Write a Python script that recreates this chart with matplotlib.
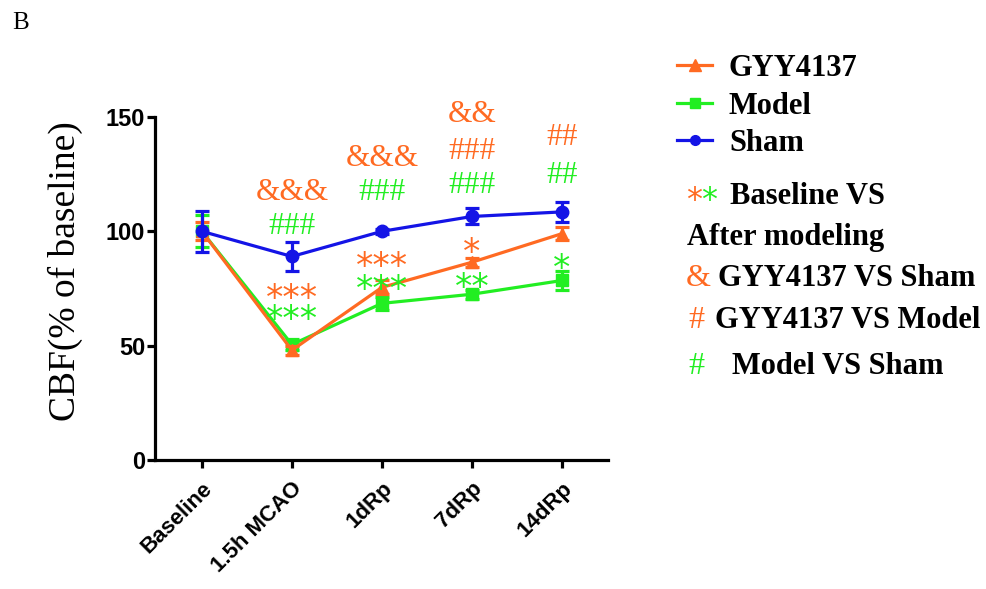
import numpy as np
import matplotlib.pyplot as plt
from matplotlib.lines import Line2D

# time points
categories = ['Baseline', '1.5h MCAO', '1dRp', '7dRp', '14dRp']

# CBF (% of baseline), mean and error
gyy_mean = [100, 48, 75.5, 86.5, 99]
gyy_err = [4, 2, 3, 2, 3]
model_mean = [100, 50.5, 68.5, 72.5, 78.5]
model_err = [7, 2.5, 3, 2, 4]
sham_mean = [100, 89, 100, 106.5, 108.5]
sham_err = [9, 6.5, 1, 3.5, 4.5]

# significance marks: (time index, y, text, group)
marks_x = [1, 1, 1, 1, 2, 2, 2, 2, 3, 3, 3, 3, 3, 4, 4, 4]
marks_y = [117, 102, 74, 65, 132, 117, 88, 78, 151, 135, 120, 94, 79, 141, 124.5, 87]
marks_txt = ['&&&', '###', '***', '***', '&&&', '###', '***', '***',
             '&&', '###', '###', '*', '**', '##', '##', '*']
marks_grp = ['g', 'm', 'g', 'm', 'g', 'm', 'g', 'm',
             'g', 'g', 'm', 'g', 'm', 'g', 'm', 'm']

orange = '#ff6a22'
green = '#22ee22'
blue = '#1414e6'
colors = {'g': orange, 'm': green}

fig = plt.figure(figsize=(9.86, 5.89), dpi=100)
ax = fig.add_axes([155 / 986, 1 - 460 / 589, (608 - 155) / 986, (460 - 117) / 589])

x = np.arange(len(categories))
lw = 2.3
ms = 9
ax.errorbar(x, model_mean, yerr=model_err, color=green, marker='s', markersize=ms,
            lw=lw, elinewidth=lw, capsize=5, capthick=lw, label='Model', zorder=3)
ax.errorbar(x, gyy_mean, yerr=gyy_err, color=orange, marker='^', markersize=ms,
            lw=lw, elinewidth=lw, capsize=5, capthick=lw, label='GYY4137', zorder=4)
ax.errorbar(x, sham_mean, yerr=sham_err, color=blue, marker='o', markersize=ms,
            lw=lw, elinewidth=lw, capsize=5, capthick=lw, label='Sham', zorder=5)

for xi, yi, t, g in zip(marks_x, marks_y, marks_txt, marks_grp):
    if '*' in t:
        ax.text(xi, yi - 8, t, color=colors[g], ha='center', va='baseline',
                fontsize=25, family='DejaVu Sans', clip_on=False, zorder=6)
    else:
        ax.text(xi, yi, t, color=colors[g], ha='center', va='center',
                fontsize=22.5, family='Liberation Serif', clip_on=False, zorder=6)

ax.set_xlim(-0.52, 4.51)
ax.set_ylim(0, 150)
ax.set_yticks([0, 50, 100, 150])
ax.set_xticks(x)
ax.set_xticklabels(categories, rotation=45, ha='right', va='top', rotation_mode='anchor')
for lab in ax.get_xticklabels():
    lab.set_family('Liberation Sans')
    lab.set_fontweight('bold')
    lab.set_fontsize(16)
for lab in ax.get_yticklabels():
    lab.set_family('Liberation Sans')
    lab.set_fontweight('bold')
    lab.set_fontsize(17)
for s in ['top', 'right']:
    ax.spines[s].set_visible(False)
for s in ['left', 'bottom']:
    ax.spines[s].set_linewidth(2.3)
ax.tick_params(width=2.3, length=6)
ax.tick_params(axis='y', pad=1)
ax.tick_params(axis='x', pad=7)
ax.set_ylabel('CBF(% of baseline)', family='Liberation Serif', fontsize=27)
ax.yaxis.set_label_coords(-0.16, 0.551)

fig.text(12 / 986, 1 - 23 / 589, 'B', family='Liberation Serif', fontsize=18, va='center')

# legend with the three groups
handles = [Line2D([], [], color=orange, marker='^', lw=lw, markersize=8),
           Line2D([], [], color=green, marker='s', lw=lw, markersize=7),
           Line2D([], [], color=blue, marker='o', lw=lw, markersize=7)]
leg = fig.legend(handles, ['GYY4137', 'Model', 'Sham'], loc='upper left',
                 bbox_to_anchor=(677 / 986, 1 - 54 / 589), frameon=False,
                 prop={'family': 'Liberation Serif', 'weight': 'bold', 'size': 22},
                 handlelength=1.15, handletextpad=0.55, labelspacing=0.28,
                 borderpad=0, borderaxespad=0)

# significance key
tp = dict(family='Liberation Serif', weight='bold', size=22, va='center')
sp = dict(family='Liberation Serif', size=23, va='center')
ap = dict(family='DejaVu Sans', size=23, va='baseline')
fig.text(686 / 986, 1 - 209 / 589, '*', color=orange, **ap)
fig.text(701 / 986, 1 - 209 / 589, '*', color=green, **ap)
fig.text(730 / 986, 1 - 197 / 589, 'Baseline VS', **tp)
fig.text(687 / 986, 1 - 237 / 589, 'After modeling', **tp)
fig.text(686 / 986, 1 - 279 / 589, '&', color=orange, **sp)
fig.text(718 / 986, 1 - 279 / 589, 'GYY4137 VS Sham', **tp)
fig.text(688 / 986, 1 - 321 / 589, '#', color=orange, **sp)
fig.text(715 / 986, 1 - 321 / 589, 'GYY4137 VS Model', **tp)
fig.text(688 / 986, 1 - 366 / 589, '#', color=green, **sp)
fig.text(732 / 986, 1 - 366 / 589, 'Model VS Sham', **tp)

fig.savefig('out.png', dpi=100)
